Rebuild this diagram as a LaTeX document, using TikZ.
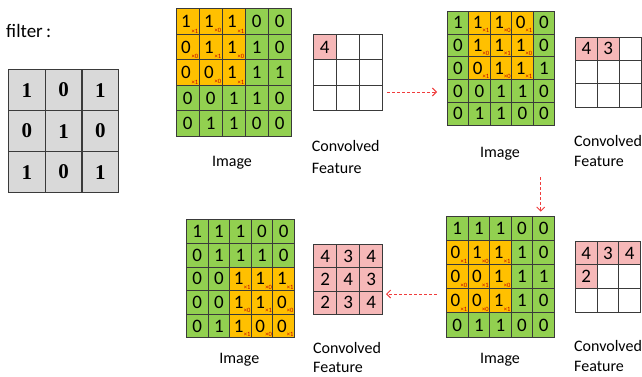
\documentclass[tikz,border=0pt]{standalone}
\usepackage{fontspec}
\setmainfont{Carlito}
\newfontfamily\filterfont{Liberation Serif}
\usetikzlibrary{arrows.meta}
\definecolor{cg}{HTML}{92D050}
\definecolor{co}{HTML}{FFC000}
\definecolor{cp}{HTML}{F6B8B8}
\definecolor{cw}{HTML}{FFFFFF}
\definecolor{cgray}{HTML}{D9D9D9}
\definecolor{cline}{HTML}{3A3A3A}
\definecolor{cred}{HTML}{F03C3C}
\definecolor{csub}{HTML}{C00000}
\tikzset{
 cellbox/.style={draw=cline, line width=0.9pt, inner sep=0pt, anchor=north west},
 digit/.style={font=\fontsize{19}{19}\selectfont, inner sep=0pt},
 fdigit/.style={font=\filterfont\bfseries\fontsize{21}{21}\selectfont, inner sep=0pt},
 subm/.style={font=\fontsize{6.5}{6.5}\selectfont, text=csub, inner sep=0pt},
 lbl/.style={font=\fontsize{16}{19}\selectfont, inner sep=0pt, anchor=base west},
 imglbl/.style={font=\fontsize{16}{19}\selectfont, inner sep=0pt, anchor=base},
 flow/.style={draw=cred, line width=1pt, dash pattern=on 3pt off 2pt, -{Straight Barb[length=4pt,width=8pt]}},
}
\newcommand\cellgrid[6]{%
 \foreach \row [count=\r from 0] in {#6} {
  \foreach \v/\c/\s [count=\k from 0] in \row {
   \node[cellbox, fill=\c, minimum width=#4pt, minimum height=#5pt] (#1-\r-\k) at ({#2+\k*#4},{#3+\r*#5}) {};
   \ifnum\s<2
     \node[digit] at ([xshift=-1.8pt]#1-\r-\k.center) {\v};
     \node[subm, anchor=south east] at ([xshift=-1.2pt,yshift=1.5pt]#1-\r-\k.south east) {×\s};
   \else
     \node[digit] at (#1-\r-\k.center) {\v};
   \fi
  }}}
\begin{document}
\begin{tikzpicture}[x=1pt,y=-1pt]
\useasboundingbox (0,0) rectangle (642,376);
% filter
\node[lbl, font=\fontsize{19}{21}\selectfont] (flabel) at (6,37) {filter\,:};
\foreach \row [count=\r from 0] in {{1,0,1},{0,1,0},{1,0,1}} {
 \foreach \v [count=\k from 0] in \row {
  \node[cellbox, fill=cgray, line width=1.2pt, minimum width=36.7pt, minimum height=41pt] (f-\r-\k) at ({8+\k*36.7},{69+\r*41}) {};
  \node[fdigit] at (f-\r-\k.center) {\v};
 }}
% image 1
\cellgrid{ia}{175.7}{8.3}{23}{25.5}{
 {1/co/1,1/co/0,1/co/1,0/cg/9,0/cg/9},
 {0/co/0,1/co/1,1/co/0,1/cg/9,0/cg/9},
 {0/co/1,0/co/0,1/co/1,1/cg/9,1/cg/9},
 {0/cg/9,0/cg/9,1/cg/9,1/cg/9,0/cg/9},
 {0/cg/9,1/cg/9,1/cg/9,0/cg/9,0/cg/9}}
\node[imglbl] (la) at (232,166) {Image};
\cellgrid{ca}{312.7}{34}{23}{25.3}{
 {4/cp/9,/cw/9,/cw/9},{/cw/9,/cw/9,/cw/9},{/cw/9,/cw/9,/cw/9}}
\node[lbl] (lca1) at (311.7,151.7) {Convolved};
\node[lbl] (lca2) at (311.7,173) {Feature};
% image 2
\cellgrid{ib}{446.7}{11}{21.5}{22.7}{
 {1/cg/9,1/co/1,1/co/0,0/co/1,0/cg/9},
 {0/cg/9,1/co/0,1/co/1,1/co/0,0/cg/9},
 {0/cg/9,0/co/1,1/co/0,1/co/1,1/cg/9},
 {0/cg/9,0/cg/9,1/cg/9,1/cg/9,0/cg/9},
 {0/cg/9,1/cg/9,1/cg/9,0/cg/9,0/cg/9}}
\node[imglbl] (lb) at (500,157) {Image};
\cellgrid{cb}{575}{36.7}{21.9}{23.3}{
 {4/cp/9,3/cp/9,/cw/9},{/cw/9,/cw/9,/cw/9},{/cw/9,/cw/9,/cw/9}}
\node[lbl] (lcb1) at (574,146.7) {Convolved};
\node[lbl] (lcb2) at (574,166.7) {Feature};
% image 3
\cellgrid{ic}{446}{216}{21.6}{24.1}{
 {1/cg/9,1/cg/9,1/cg/9,0/cg/9,0/cg/9},
 {0/co/1,1/co/0,1/co/1,1/cg/9,0/cg/9},
 {0/co/0,0/co/1,1/co/0,1/cg/9,1/cg/9},
 {0/co/1,0/co/0,1/co/1,1/cg/9,0/cg/9},
 {0/cg/9,1/cg/9,1/cg/9,0/cg/9,0/cg/9}}
\node[imglbl] (lc) at (500,363) {Image};
\cellgrid{cc}{575}{240.7}{21.7}{23.7}{
 {4/cp/9,3/cp/9,4/cp/9},{2/cp/9,/cw/9,/cw/9},{/cw/9,/cw/9,/cw/9}}
\node[lbl] (lcc1) at (574,351.7) {Convolved};
\node[lbl] (lcc2) at (574,371.5) {Feature};
% image 4
\cellgrid{id}{186}{219.3}{21.6}{23.6}{
 {1/cg/9,1/cg/9,1/cg/9,0/cg/9,0/cg/9},
 {0/cg/9,1/cg/9,1/cg/9,1/cg/9,0/cg/9},
 {0/cg/9,0/cg/9,1/co/1,1/co/0,1/co/1},
 {0/cg/9,0/cg/9,1/co/0,1/co/1,0/co/0},
 {0/cg/9,1/cg/9,1/co/1,0/co/0,0/co/1}}
\node[imglbl] (ld) at (239.3,363) {Image};
\cellgrid{cd}{313.3}{244}{23}{23.3}{
 {4/cp/9,3/cp/9,4/cp/9},{2/cp/9,4/cp/9,3/cp/9},{2/cp/9,3/cp/9,4/cp/9}}
\node[lbl] (lcd1) at (313,353) {Convolved};
\node[lbl] (lcd2) at (313,372) {Feature};
% arrows
\coordinate (a1s) at (387,92);
\coordinate (a1e) at (437,92);
\coordinate (a2s) at (540.7,177);
\coordinate (a2e) at (540.7,211.7);
\coordinate (a3s) at (436.7,294);
\coordinate (a3e) at (386,294);
\draw[flow] (a1s) -- (a1e);
\draw[flow] (a2s) -- (a2e);
\draw[flow] (a3s) -- (a3e);
\end{tikzpicture}
\end{document}
